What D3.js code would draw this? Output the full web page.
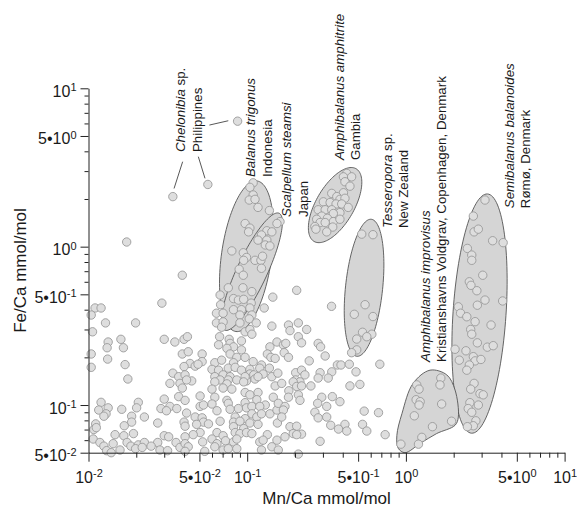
<!DOCTYPE html>
<html><head><meta charset="utf-8">
<script src="https://cdn.jsdelivr.net/npm/d3@7"></script>
<style>
body{margin:0;background:#fff}
svg{display:block}
text{font-family:"Liberation Sans",Arial,Helvetica,sans-serif;fill:#1a1a1a}
</style>
</head><body>
<svg id="chart" width="577" height="509"></svg>
<script>
// ---------- DATA (Mn/Ca, Fe/Ca in mmol/mol) ----------
const otherSamples = [
[0.011,0.41],[0.012,0.41],[0.0104,0.37],[0.029,0.44],[0.0128,0.33],[0.0198,0.33],[0.0106,0.29],[0.030,0.26],[0.035,0.25],[0.040,0.26],
[0.016,0.26],[0.0133,0.25],[0.0131,0.23],[0.0166,0.23],[0.0104,0.21],[0.039,0.21],[0.0132,0.195],[0.017,0.18],[0.0104,0.173],[0.034,0.159],
[0.0177,0.146],[0.037,0.151],[0.0326,0.137],[0.0377,0.137],[0.039,0.128],[0.037,0.113],[0.030,0.109],[0.012,0.104],[0.0206,0.104],[0.0201,0.096],
[0.0133,0.096],[0.0116,0.093],[0.0162,0.094],[0.0286,0.095],[0.0326,0.098],[0.031,0.092],[0.036,0.095],[0.0129,0.088],[0.0125,0.085],
[0.0187,0.085],[0.0225,0.084],[0.0187,0.078],[0.0273,0.077],[0.0111,0.076],[0.0168,0.074],[0.0108,0.070],[0.0112,0.072],[0.0192,0.066],[0.0147,0.065],
[0.0167,0.064],[0.030,0.064],[0.032,0.063],[0.0107,0.061],[0.0118,0.058],[0.0175,0.058],[0.0356,0.058],[0.0143,0.057],[0.0125,0.055],[0.0185,0.055],
[0.0206,0.056],[0.0225,0.058],[0.0273,0.058],[0.0248,0.055],[0.0198,0.053],[0.0218,0.054],[0.0282,0.052],[0.0315,0.0515],[0.013,0.0515],[0.0139,0.050],
[0.0158,0.052],[0.0377,0.054],
[0.039,0.66],[0.042,0.27],[0.0174,1.07],[0.034,2.07],[0.0565,2.47],[0.087,6.2],
[0.067,0.27],[0.077,0.26],[0.092,0.254],[0.066,0.24],[0.078,0.245],[0.082,0.233],[0.0745,0.228],[0.092,0.223],[0.139,0.233],[0.154,0.25],
[0.0425,0.217],[0.052,0.21],[0.078,0.21],[0.086,0.20],[0.097,0.20],[0.134,0.21],[0.141,0.20],[0.052,0.188],[0.0436,0.183],[0.047,0.176],
[0.049,0.181],[0.0625,0.185],[0.069,0.192],[0.082,0.185],[0.109,0.188],[0.123,0.179],[0.150,0.197],[0.040,0.175],[0.060,0.168],[0.066,0.166],
[0.076,0.171],[0.084,0.173],[0.092,0.166],[0.104,0.168],[0.120,0.171],[0.138,0.171],[0.0406,0.155],[0.0625,0.151],[0.0705,0.155],[0.078,0.151],
[0.104,0.157],[0.110,0.155],[0.126,0.157],[0.0447,0.142],[0.0415,0.144],[0.0675,0.144],[0.076,0.144],[0.086,0.144],[0.099,0.142],[0.112,0.146],
[0.117,0.151],[0.143,0.151],[0.097,0.151],[0.0625,0.140],[0.0745,0.136],[0.095,0.140],[0.150,0.132],[0.060,0.126],[0.0705,0.128],
[0.080,0.126],[0.097,0.120],[0.104,0.116],[0.117,0.120],[0.146,0.112],[0.0625,0.112],[0.0505,0.114],[0.0406,0.107],[0.0745,0.107],[0.076,0.1025],
[0.097,0.1035],[0.115,0.108],[0.130,0.100],[0.0505,0.098],[0.053,0.100],[0.060,0.1015],[0.088,0.095],[0.099,0.096],[0.107,0.098],[0.120,0.098],
[0.0415,0.089],[0.0645,0.092],[0.078,0.094],[0.107,0.088],[0.139,0.088],[0.154,0.093],[0.047,0.084],[0.052,0.083],[0.084,0.084],[0.097,0.082],
[0.115,0.084],[0.123,0.088],[0.040,0.078],[0.053,0.078],[0.057,0.076],[0.0675,0.079],[0.082,0.078],[0.090,0.079],[0.104,0.077],[0.117,0.0755],
[0.155,0.077],[0.048,0.0755],[0.0406,0.0735],[0.082,0.073],[0.095,0.071],[0.0505,0.067],[0.0645,0.067],[0.084,0.067],[0.090,0.066],[0.099,0.067],
[0.107,0.066],[0.0705,0.064],[0.0457,0.065],[0.0406,0.063],[0.134,0.065],[0.060,0.061],[0.0645,0.057],[0.073,0.0595],[0.082,0.0585],[0.086,0.061],
[0.0524,0.0585],[0.0406,0.057],[0.120,0.0585],[0.126,0.060],[0.154,0.060],[0.0425,0.0545],[0.0625,0.0545],[0.0705,0.052],[0.076,0.053],[0.086,0.053],
[0.123,0.052],[0.143,0.0545],[0.0406,0.051],[0.054,0.051],
[0.205,0.53],[0.34,0.42],[0.182,0.32],[0.21,0.33],[0.186,0.295],[0.237,0.30],[0.21,0.27],[0.169,0.24],[0.175,0.245],[0.22,0.247],
[0.28,0.245],[0.29,0.233],[0.171,0.214],[0.182,0.20],[0.31,0.204],[0.246,0.19],[0.37,0.179],[0.39,0.179],[0.44,0.181],[0.685,0.181],
[0.156,0.159],[0.202,0.16],[0.22,0.166],[0.231,0.155],[0.288,0.16],[0.341,0.162],[0.485,0.162],[0.202,0.144],[0.215,0.14],[0.195,0.14],
[0.28,0.148],[0.324,0.148],[0.165,0.137],[0.205,0.131],[0.22,0.132],[0.252,0.132],[0.444,0.132],[0.513,0.135],[0.183,0.123],
[0.21,0.116],[0.182,0.112],[0.295,0.112],[0.344,0.113],[0.384,0.105],[0.157,0.1025],[0.215,0.107],[0.278,0.1025],[0.317,0.098],[0.173,0.098],
[0.169,0.093],[0.165,0.084],[0.267,0.090],[0.28,0.083],[0.317,0.084],[0.546,0.0915],[0.672,0.0895],[0.186,0.073],[0.205,0.0735],
[0.195,0.066],[0.22,0.0655],[0.205,0.065],[0.336,0.0745],[0.413,0.0755],[0.376,0.0705],[0.424,0.0685],[0.533,0.0755],[0.567,0.0685],[0.74,0.065],
[0.173,0.063],[0.288,0.059],[0.157,0.052],[0.21,0.049]
];
const trigonusSteamsiSamples = [
[0.109,2.53],[0.104,2.37],[0.109,2.12],[0.103,1.97],[0.112,1.99],[0.117,1.77],[0.138,1.69],[0.161,1.44],[0.154,1.40],[0.097,1.40],
[0.104,1.31],[0.102,1.24],[0.133,1.26],[0.143,1.24],[0.123,1.185],[0.117,1.10],[0.133,1.10],[0.13,1.025],[0.139,1.01],[0.080,0.94],
[0.0945,0.915],[0.099,0.855],[0.095,0.82],[0.112,0.82],[0.122,0.82],[0.125,0.87],[0.123,0.73],[0.089,0.72],[0.0945,0.66],
[0.076,0.55],[0.094,0.55],[0.107,0.52],[0.0675,0.495],[0.082,0.47],[0.088,0.46],[0.095,0.465],[0.106,0.44],[0.145,0.48],[0.068,0.43],
[0.082,0.40],[0.092,0.40],[0.104,0.41],[0.128,0.41],[0.064,0.38],[0.0705,0.38],[0.090,0.37],[0.107,0.37],[0.064,0.33],[0.0705,0.335],
[0.090,0.33],[0.103,0.35],[0.114,0.33],[0.069,0.31],[0.143,0.315],[0.097,0.29],[0.104,0.30],[0.107,0.28]
];
const amphitriteSamples = [
[0.424,2.9],[0.404,2.76],[0.455,2.76],[0.413,2.57],[0.444,2.41],[0.341,2.17],[0.404,2.19],[0.367,2.07],[0.384,1.99],[0.413,2.02],
[0.302,1.92],[0.333,1.90],[0.363,1.86],[0.394,1.86],[0.433,1.77],[0.28,1.71],[0.31,1.71],[0.341,1.71],[0.384,1.64],[0.349,1.62],
[0.295,1.56],[0.274,1.49],[0.32,1.51],[0.349,1.44],[0.288,1.42],[0.31,1.42],[0.384,1.49],[0.267,1.34],[0.346,1.33],[0.317,1.24],[0.271,1.29]
];
const tesseroporaSamples = [
[0.527,1.20],[0.62,1.19],[0.553,0.43],[0.473,0.374],[0.62,0.362],[0.533,0.288],[0.61,0.28],[0.567,0.27],[0.49,0.261],[0.49,0.223],[0.455,0.214]
];
const improvisusSamples = [
[1.17,0.134],[1.21,0.126],[1.66,0.148],[1.64,0.134],[1.16,0.108],[1.23,0.105],[1.21,0.100],[1.68,0.1015],[1.13,0.0855],[1.94,0.079],
[1.47,0.073],[1.26,0.0625],[1.20,0.0566],[0.93,0.0566]
];
const balanoidesSamples = [
[3.15,1.97],[2.66,1.56],[2.69,1.24],[2.86,1.29],[3.52,1.09],[4.1,1.06],[2.44,0.975],[2.6,0.885],[2.6,0.82],[3.05,0.66],
[2.51,0.60],[2.57,0.57],[2.8,0.527],[3.15,0.46],[2.82,0.427],[4.07,0.454],[2.14,0.417],[2.21,0.38],[2.42,0.361],[2.73,0.336],
[3.44,0.32],[2.56,0.30],[2.6,0.28],[2.82,0.247],[3.26,0.232],[3.55,0.237],[2.04,0.225],[2.39,0.22],[2.66,0.202],[2.17,0.192],
[2.73,0.19],[2.97,0.194],[2.51,0.179],[2.42,0.166],[2.69,0.137],[2.56,0.126],[2.93,0.118],[3.07,0.116],[2.53,0.1035],[2.86,0.100],
[2.47,0.095],[2.6,0.090],[2.76,0.0795],[2.66,0.074],[2.44,0.073]
];
// envelope ellipses: centre (Mn, Fe), semi-axes in decades, tilt from vertical (deg)
const envelopes = [
 {name:"trigonus",  mn:0.099,  fe:0.87,  a:0.48,  b:0.158, tilt:8},
 {name:"steamsi",   mn:0.107,  fe:0.695, a:0.407, b:0.095, tilt:25},
 {name:"amphitrite",mn:0.358,  fe:1.83,  a:0.265, b:0.12,  tilt:30},
 {name:"tesseropora",mn:0.545, fe:0.55,  a:0.435, b:0.117, tilt:6},
 {name:"balanoides",mn:2.91,   fe:0.378, a:0.757, b:0.167, tilt:3.8}
];
const improvisusOutline = [
[1.11,0.137],[1.42,0.166],[1.81,0.155],[2.04,0.1245],[2.14,0.084],[2.04,0.0745],[1.56,0.066],[1.23,0.0572],[0.987,0.050],[0.895,0.0533],[0.877,0.0642],[0.945,0.0885]
];
// annotation labels: anchor (Mn, Fe) of first line start; lines of [text, italic]
const annotations = [
 {mn:0.0407, fe:3.96, lines:[[["Chelonibia",true],[" sp.",false]],[["Philippines",false]]]},
 {mn:0.112,  fe:2.75, lines:[[["Balanus trigonus",true]],[["Indonesia",false]]]},
 {mn:0.19,   fe:1.54, lines:[[["Scalpellum steamsi",true]],[["Japan",false]]]},
 {mn:0.407,  fe:3.52, lines:[[["Amphibalanus amphitrite",true]],[["Gambia",false]]]},
 {mn:0.812,  fe:1.31, lines:[[["Tesseropora",true],[" sp.",false]],[["New Zealand",false]]]},
 {mn:1.41,   fe:0.187,lines:[[["Amphibalanus improvisus",true]],[["Kristianshavns Voldgrav, Copenhagen, Denmark",false]]]},
 {mn:4.77,   fe:1.75, lines:[[["Semibalanus balanoides",true]],[["Rømø, Denmark",false]]]}
];
const leaders = [
 [[0.0392,3.44],[0.0346,2.33]],
 [[0.0492,3.7],[0.0542,2.7]],
 [[0.0578,5.86],[0.076,6.24]]
];
const xMajorTicks = [0.01,0.05,0.1,0.5,1,5,10];
const xTickLabels = [["10","-2"],["5•10","-2"],["10","-1"],["5•10","-1"],["10","0"],["5•10","0"],["10","1"]];
const xMinorTicks = [0.02,0.03,0.04,0.06,0.07,0.08,0.09,0.2,0.3,0.4,0.6,0.7,0.8,0.9,2,3,4,6,7,8,9];
const yMajorTicks = [0.05,0.1,0.5,1,5,10];
const yTickLabels = [["5•10","-2"],["10","-1"],["5•10","-1"],["10","0"],["5•10","0"],["10","1"]];
const yMinorTicks = [0.06,0.07,0.08,0.09,0.2,0.3,0.4,0.6,0.7,0.8,0.9,2,3,4,6,7,8,9];

// ---------- LAYOUT ----------
const plotL=88.5, plotR=564.6, plotT=88.3, plotB=452.7;
const svg=d3.select("#chart");
const x=d3.scaleLog().domain([0.01,10]).range([plotL,plotR]);
const y=d3.scaleLog().domain([0.05,10]).range([plotB,plotT]);

// envelopes
const gEnv=svg.append("g");
function ellipsePts(e){
  const cx=Math.log10(e.mn), cy=Math.log10(e.fe), th=e.tilt*Math.PI/180;
  return d3.range(0,360,3).map(dg=>{
    const t=dg*Math.PI/180, u=e.a*Math.cos(t), v=e.b*Math.sin(t);
    const lx=cx+u*Math.sin(th)+v*Math.cos(th);
    const ly=cy+u*Math.cos(th)-v*Math.sin(th);
    return [x(Math.pow(10,lx)),y(Math.pow(10,ly))];
  });
}
const closedLine=d3.line().curve(d3.curveCatmullRomClosed.alpha(0.5));
envelopes.forEach(e=>{
  gEnv.append("path").attr("d",closedLine(ellipsePts(e)))
    .attr("fill","#d5d5d5").attr("stroke","#555").attr("stroke-width",0.9);
});
gEnv.append("path").attr("d",closedLine(improvisusOutline.map(p=>[x(p[0]),y(p[1])])))
  .attr("fill","#d5d5d5").attr("stroke","#555").attr("stroke-width",0.9);

// points
const allSamples=[].concat(otherSamples,trigonusSteamsiSamples,amphitriteSamples,tesseroporaSamples,improvisusSamples,balanoidesSamples);
svg.append("g").selectAll("circle").data(allSamples).join("circle")
  .attr("cx",d=>x(d[0])).attr("cy",d=>y(d[1])).attr("r",4.2)
  .attr("fill","#dedede").attr("stroke","#9a9a9a").attr("stroke-width",0.9);

// leaders
svg.append("g").selectAll("line").data(leaders).join("line")
  .attr("x1",d=>x(d[0][0])).attr("y1",d=>y(d[0][1]))
  .attr("x2",d=>x(d[1][0])).attr("y2",d=>y(d[1][1]))
  .attr("stroke","#444").attr("stroke-width",0.9);

// annotations
const lineGap=16.5;
annotations.forEach(a=>{
  const ax=x(a.mn), ay=y(a.fe);
  a.lines.forEach((ln,i)=>{
    const t=svg.append("text")
      .attr("transform",`translate(${ax+i*lineGap},${ay}) rotate(-90)`)
      .attr("font-size",13.3).attr("text-anchor","start");
    ln.forEach(seg=>t.append("tspan").text(seg[0]).attr("font-style",seg[1]?"italic":"normal"));
  });
});

// axes
function supLabel(sel,labels){
  sel.selectAll(".tick text").each(function(d,i){
    const el=d3.select(this); el.text("");
    const lab=labels[i];
    el.append("tspan").text(lab[0]);
    el.append("tspan").text(lab[1]).attr("font-size",11).attr("dy","-0.5em");
  });
}
const xAxisMajor=d3.axisBottom(x).tickValues(xMajorTicks).tickSize(9).tickSizeOuter(0).tickPadding(6);
const gx=svg.append("g").attr("transform",`translate(0,${plotB})`).call(xAxisMajor);
gx.selectAll(".tick text").attr("font-size",16).attr("dy","0.95em").attr("fill","#1a1a1a")
  .attr("font-family",'"Liberation Sans",Arial,sans-serif');
supLabel(gx,xTickLabels);
gx.append("g").call(d3.axisBottom(x).tickValues(xMinorTicks).tickSize(5).tickSizeOuter(0).tickFormat(""))
  .select(".domain").remove();

const yAxisMajor=d3.axisLeft(y).tickValues(yMajorTicks).tickSize(8).tickSizeOuter(0).tickPadding(4);
const gy=svg.append("g").attr("transform",`translate(${plotL},0)`).call(yAxisMajor);
gy.selectAll(".tick text").attr("font-size",16).attr("dy","0.5em").attr("fill","#1a1a1a")
  .attr("font-family",'"Liberation Sans",Arial,sans-serif');
supLabel(gy,yTickLabels);
gy.append("g").call(d3.axisLeft(y).tickValues(yMinorTicks).tickSize(4).tickSizeOuter(0).tickFormat(""))
  .select(".domain").remove();

svg.selectAll(".domain, .tick line").attr("stroke","#222").attr("stroke-width",1);

// axis titles
svg.append("text").attr("x",(plotL+plotR)/2).attr("y",504).attr("text-anchor","middle")
  .attr("font-size",17).text("Mn/Ca mmol/mol");
svg.append("text").attr("transform",`translate(26,${(plotT+plotB)/2}) rotate(-90)`)
  .attr("text-anchor","middle").attr("font-size",17).text("Fe/Ca mmol/mol");
</script>
</body></html>
